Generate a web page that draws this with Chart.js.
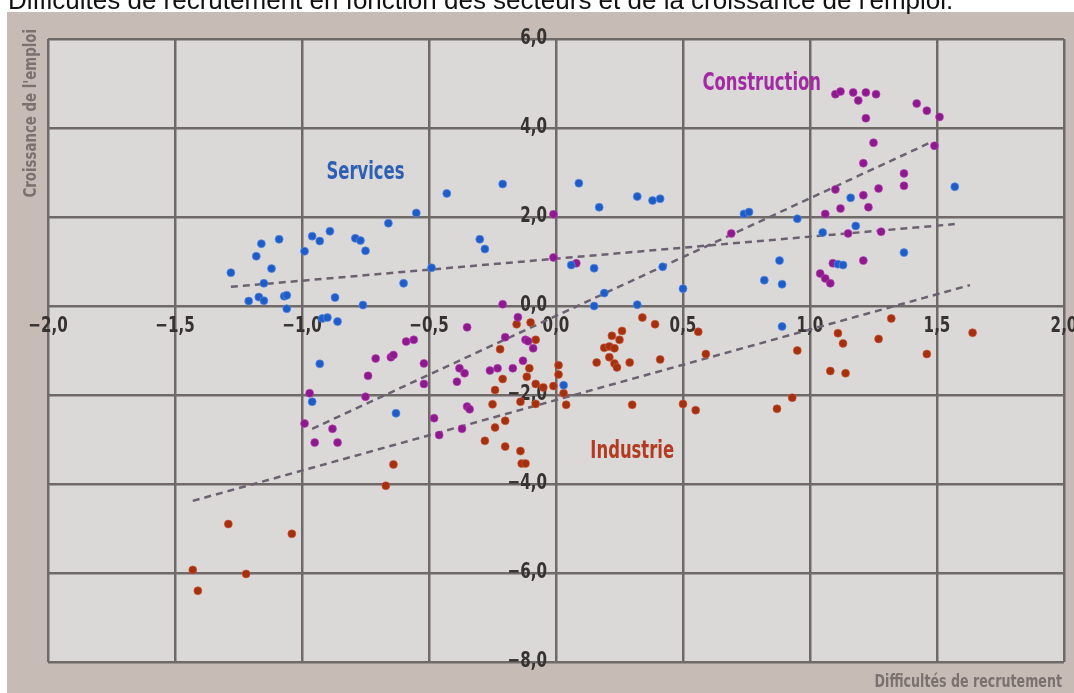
<!DOCTYPE html>
<html lang="fr">
<head>
<meta charset="utf-8">
<title>Difficultés de recrutement</title>
<script src="https://cdn.jsdelivr.net/npm/chart.js@4.4.1/dist/chart.umd.min.js"></script>
<style>
  html, body { margin: 0; padding: 0; background: #fff; }
  #wrap { position: relative; width: 1074px; height: 693px; }
</style>
</head>
<body>
<div id="wrap"><canvas id="myChart"></canvas></div>
<script>
// valeurs : [difficultés de recrutement, croissance de l'emploi]
const services = [
  [-1.28, 0.75], [-1.18, 1.12], [-1.16, 1.40], [-1.09, 1.50], [-1.12, 0.84], [-1.15, 0.51],
  [-1.21, 0.11], [-1.17, 0.20], [-1.15, 0.12], [-1.07, 0.22], [-1.06, 0.24], [-1.06, -0.06],
  [-0.99, 1.23], [-0.96, 1.57], [-0.93, 1.46], [-0.89, 1.68], [-0.79, 1.52], [-0.77, 1.47],
  [-0.75, 1.24], [-0.87, 0.19], [-0.76, 0.02], [-0.92, -0.28], [-0.90, -0.26], [-0.86, -0.35],
  [-0.66, 1.86], [-0.55, 2.09], [-0.60, 0.51], [-0.49, 0.86], [-0.93, -1.30], [-0.96, -2.15],
  [-0.63, -2.41], [-0.43, 2.53], [-0.21, 2.74], [-0.30, 1.50], [-0.28, 1.28], [0.09, 2.76],
  [0.17, 2.22], [0.32, 2.46], [0.38, 2.37], [0.41, 2.41], [0.06, 0.92], [0.15, 0.85],
  [0.19, 0.29], [0.15, 0.00], [0.32, 0.03], [0.42, 0.88], [0.50, 0.39], [0.88, 1.02],
  [0.82, 0.58], [0.89, 0.49], [1.05, 1.65], [1.11, 0.94], [1.13, 0.92], [1.37, 1.20],
  [0.89, -0.46], [0.03, -1.78], [0.74, 2.07], [0.76, 2.11], [0.95, 1.96], [1.16, 2.43],
  [1.18, 1.80], [1.57, 2.68]
];

const construction = [
  [1.10, 4.76], [1.12, 4.82], [1.17, 4.80], [1.19, 4.62], [1.22, 4.80], [1.26, 4.76],
  [1.22, 4.22], [1.42, 4.55], [1.46, 4.39], [1.51, 4.25], [1.25, 3.67], [1.49, 3.60],
  [1.21, 3.21], [1.37, 2.98], [1.37, 2.70], [1.27, 2.64], [1.10, 2.62], [1.21, 2.49],
  [1.23, 2.22], [1.12, 2.19], [1.06, 2.07], [0.69, 1.63], [1.15, 1.63], [1.28, 1.67],
  [-0.01, 2.06], [-0.01, 1.09], [0.08, 0.96], [1.09, 0.96], [1.21, 1.02], [1.04, 0.73],
  [1.06, 0.62], [1.08, 0.51],
  [-0.21, 0.04], [-0.15, -0.25], [-0.35, -0.48], [-0.59, -0.80], [-0.56, -0.76], [-0.20, -0.70],
  [-0.12, -0.76], [-0.11, -0.79], [-0.09, -0.95], [-0.13, -1.23], [-0.52, -1.29], [-0.52, -1.75],
  [-0.38, -1.40], [-0.36, -1.51], [-0.39, -1.70], [-0.26, -1.45], [-0.23, -1.40], [-0.17, -1.40],
  [-0.35, -2.26], [-0.34, -2.32], [-0.48, -2.52], [-0.37, -2.76], [-0.46, -2.90], [-0.71, -1.18],
  [-0.65, -1.15], [-0.64, -1.10], [-0.74, -1.57], [-0.75, -2.04], [-0.97, -1.96], [-0.99, -2.64],
  [-0.88, -2.76], [-0.95, -3.07], [-0.86, -3.07]
];

const industrie = [
  [-0.10, -0.37], [-0.155, -0.41], [-0.08, -0.76], [-0.22, -0.97], [-0.105, -1.40], [-0.115, -1.59],
  [-0.21, -1.64], [-0.24, -1.89], [-0.08, -1.75], [-0.05, -1.83], [-0.01, -1.80], [0.01, -1.33],
  [0.01, -1.54], [0.03, -1.96], [0.04, -2.22], [-0.14, -2.15], [-0.08, -2.20], [-0.25, -2.21],
  [-0.20, -2.58], [-0.24, -2.73], [-0.28, -3.03], [-0.20, -3.16], [-0.14, -3.26], [-0.135, -3.54],
  [-0.12, -3.54],
  [0.16, -1.27], [0.19, -0.94], [0.21, -0.91], [0.23, -0.95], [0.22, -0.67], [0.25, -0.76],
  [0.26, -0.56], [0.21, -1.15], [0.23, -1.29], [0.24, -1.38], [0.29, -1.27], [0.34, -0.26],
  [0.39, -0.41], [0.41, -1.20], [0.30, -2.22], [0.50, -2.20], [0.55, -2.34], [0.56, -0.58],
  [0.59, -1.08],
  [0.95, -1.00], [1.11, -0.61], [1.13, -0.84], [1.27, -0.74], [1.32, -0.28], [1.46, -1.08],
  [1.64, -0.60], [1.08, -1.46], [1.14, -1.51], [0.93, -2.06], [0.87, -2.31],
  [-0.64, -3.56], [-0.67, -4.04], [-1.29, -4.90], [-1.04, -5.12], [-1.43, -5.93], [-1.22, -6.02],
  [-1.41, -6.40]
];

// droites de tendance (extrémités)
const servicesTrend = [[-1.28, 0.43], [1.57, 1.84]];
const constructionTrend = [[-0.96, -2.76], [1.48, 3.69]];
const industrieTrend = [[-1.43, -4.38], [1.63, 0.47]];

const xTicks = [-2, -1.5, -1, -0.5, 0, 0.5, 1, 1.5, 2];
const xTickLabels = ["\u22122,0", "\u22121,5", "\u22121,0", "\u22120,5", "0,0", "0,5", "1,0", "1,5", "2,0"];
const yTicks = [6, 4, 2, 0, -2, -4, -6, -8];
const yTickLabels = ["6,0", "4,0", "2,0", "0,0", "\u22122,0", "\u22124,0", "\u22126,0", "\u22128,0"];

// étiquettes des secteurs : [texte, x, y, couleur]
const sectorLabels = [
  ["Services", -0.75, 3.01, "#2d5fb5"],
  ["Construction", 0.81, 4.99, "#a22ba4"],
  ["Industrie", 0.30, -3.28, "#b23c22"]
];

const titleText = "Difficultés de recrutement en fonction des secteurs et de la croissance de l'emploi.";
const xTitle = "Difficultés de recrutement";
const yTitle = "Croissance de l'emploi";

const narrow = "'Liberation Sans Narrow', 'DejaVu Sans Condensed', sans-serif";
const toPoints = (arr) => arr.map((p) => ({ x: p[0], y: p[1] }));

// texte resserré horizontalement (la police d'origine est très étroite)
function squeezeText(c, text, x, y, sx, align) {
  c.save();
  c.translate(x, y);
  c.scale(sx, 1);
  c.textAlign = align;
  c.fillText(text, 0, 0);
  c.restore();
}

const decorPlugin = {
  id: "decor",
  beforeDraw(chart) {
    const c = chart.ctx;
    const a = chart.chartArea;
    c.save();
    c.fillStyle = "#ffffff";
    c.fillRect(0, 0, chart.width, chart.height);
    c.fillStyle = "#c7bbb6";
    c.fillRect(7, 12, chart.width - 7, chart.height - 12);
    c.fillStyle = "#dbd9d8";
    c.fillRect(a.left, a.top, a.right - a.left, a.bottom - a.top);

    // titre (coupé en haut de l'image)
    c.fillStyle = "#111111";
    c.font = "26px 'Liberation Sans', Arial, sans-serif";
    c.textAlign = "left";
    c.textBaseline = "alphabetic";
    c.fillText(titleText, 8, 9);

    // titres des axes
    c.fillStyle = "#7b7270";
    c.font = "bold 18.5px " + narrow;
    squeezeText(c, xTitle, a.right - 2, chart.height - 6, 0.76, "right");
    c.translate(36, a.top - 10);
    c.rotate(-Math.PI / 2);
    squeezeText(c, yTitle, 0, 0, 0.8, "right");
    c.restore();
  },
  beforeDatasetsDraw(chart) {
    const c = chart.ctx;
    const xs = chart.scales.x;
    const ys = chart.scales.y;
    const x0 = xs.getPixelForValue(0);
    const y0 = ys.getPixelForValue(0);
    c.save();
    c.fillStyle = "#363230";
    c.font = "bold 21px " + narrow;
    c.textBaseline = "middle";
    xTicks.forEach((v, i) => {
      squeezeText(c, xTickLabels[i], xs.getPixelForValue(v), y0 + 21, 0.8, "center");
    });
    yTicks.forEach((v, i) => {
      squeezeText(c, yTickLabels[i], x0 - 9, ys.getPixelForValue(v), 0.8, "right");
    });
    c.restore();
  },
  afterDatasetsDraw(chart) {
    const c = chart.ctx;
    const xs = chart.scales.x;
    const ys = chart.scales.y;
    c.save();
    c.font = "bold 25px " + narrow;
    c.textBaseline = "middle";
    sectorLabels.forEach((l) => {
      c.fillStyle = l[3];
      squeezeText(c, l[0], xs.getPixelForValue(l[1]), ys.getPixelForValue(l[2]), 0.73, "center");
    });
    c.restore();
  }
};

const dotSet = (label, data, color, halo) => ({
  type: "scatter",
  label: label,
  data: toPoints(data),
  backgroundColor: color,
  borderColor: halo,
  borderWidth: 1,
  pointRadius: 4,
  order: 1
});

const trendSet = (label, data) => ({
  type: "line",
  label: label,
  data: toPoints(data),
  borderColor: "#6c6170",
  borderWidth: 2.5,
  borderDash: [7, 5],
  pointRadius: 0,
  fill: false,
  order: 5
});

new Chart(document.getElementById("myChart"), {
  type: "scatter",
  data: {
    datasets: [
      dotSet("Services", services, "#1f5cc6", "rgba(90,140,230,0.7)"),
      dotSet("Construction", construction, "#8c1a8c", "rgba(190,70,190,0.6)"),
      dotSet("Industrie", industrie, "#a3300f", "rgba(210,90,60,0.6)"),
      trendSet("Tendance services", servicesTrend),
      trendSet("Tendance construction", constructionTrend),
      trendSet("Tendance industrie", industrieTrend)
    ]
  },
  options: {
    responsive: true,
    maintainAspectRatio: false,
    animation: false,
    devicePixelRatio: 1,
    layout: { padding: { left: 48, top: 39, right: 10, bottom: 31 } },
    plugins: {
      legend: { display: false },
      tooltip: { enabled: false }
    },
    scales: {
      x: {
        type: "linear",
        min: -2,
        max: 2,
        ticks: { stepSize: 0.5, display: false },
        grid: { color: "#6f6a68", lineWidth: 2.5, drawTicks: false },
        border: { display: false },
        afterFit: (s) => { s.height = 0; }
      },
      y: {
        type: "linear",
        min: -8,
        max: 6,
        ticks: { stepSize: 2, display: false },
        grid: { color: "#6f6a68", lineWidth: 2.5, drawTicks: false },
        border: { display: false },
        afterFit: (s) => { s.width = 0; }
      }
    }
  },
  plugins: [decorPlugin]
});
</script>
</body>
</html>
